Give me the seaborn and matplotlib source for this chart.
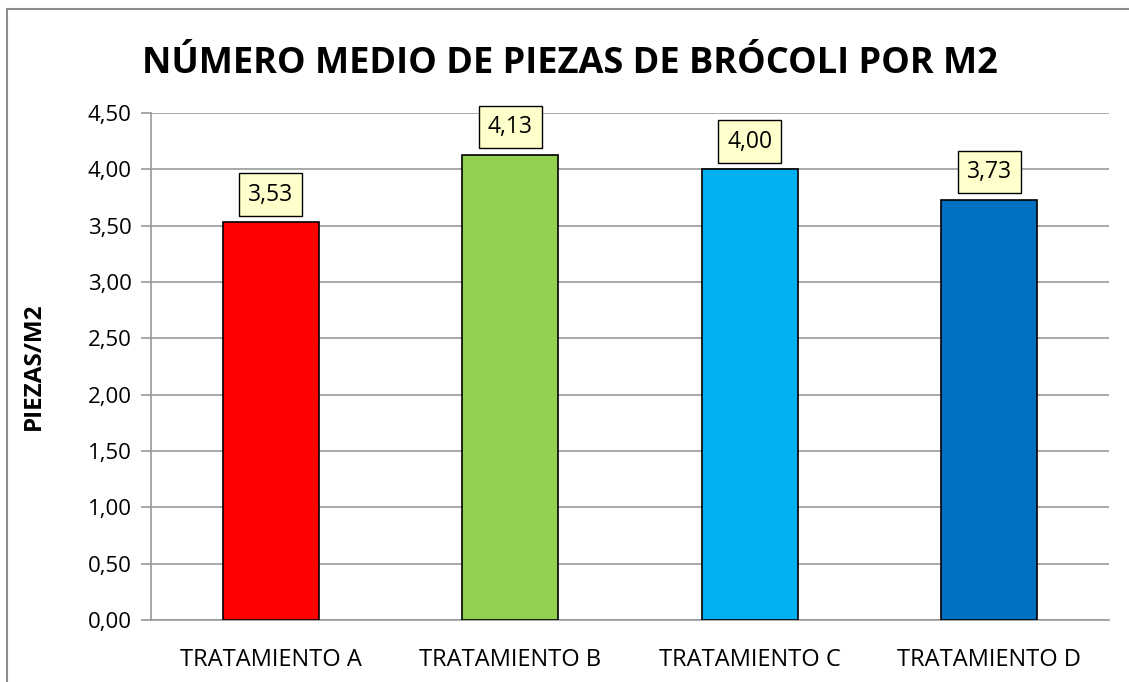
import pandas as pd
import matplotlib
matplotlib.use("Agg")
import matplotlib.pyplot as plt
import seaborn as sns
from matplotlib.patches import Rectangle
from matplotlib.ticker import FuncFormatter

# data
tratamientos = ["TRATAMIENTO A", "TRATAMIENTO B", "TRATAMIENTO C", "TRATAMIENTO D"]
piezas_m2 = [3.53, 4.13, 4.00, 3.73]
colores = ["#FF0000", "#92D050", "#00B0F0", "#0070C0"]
y_ticks = [0, 0.5, 1.0, 1.5, 2.0, 2.5, 3.0, 3.5, 4.0, 4.5]

sns.set_theme(style="white")
plt.rcParams["font.family"] = ["Open Sans", "DejaVu Sans"]
plt.rcParams["text.color"] = "black"
plt.rcParams["xtick.color"] = "black"
plt.rcParams["ytick.color"] = "black"
plt.rcParams["axes.labelcolor"] = "black"

df = pd.DataFrame({"tratamiento": tratamientos, "piezas": piezas_m2})

fig = plt.figure(figsize=(11.29, 6.82), dpi=100)
ax = fig.add_axes([0.1337, 0.0909, 0.8486, 0.7434])

sns.barplot(data=df, x="tratamiento", y="piezas", hue="tratamiento",
            palette=colores, saturation=1, width=0.4, edgecolor="black",
            linewidth=1.2, legend=False, ax=ax, zorder=3)

ax.set_ylim(0, 4.5)
ax.set_yticks(y_ticks)
ax.yaxis.set_major_formatter(FuncFormatter(lambda v, p: f"{v:.2f}".replace(".", ",")))
ax.grid(axis="y", color="#9a9a9a", linewidth=1.2, zorder=0)
ax.set_axisbelow(True)

for side in ["top", "right"]:
    ax.spines[side].set_visible(False)
for side in ["left", "bottom"]:
    ax.spines[side].set_color("#9a9a9a")
    ax.spines[side].set_linewidth(1.2)

ax.tick_params(axis="y", which="major", direction="out", length=7, width=1.2,
               color="#9a9a9a", labelcolor="black", labelsize=16, pad=7, left=True)
ax.tick_params(axis="x", length=0, labelsize=17, pad=20)
ax.set_xlabel("")
ax.set_ylabel("PIEZAS/M2", fontsize=17.5, fontweight="bold", labelpad=30)

# value labels
for i, v in enumerate(piezas_m2):
    ax.annotate(f"{v:.2f}".replace(".", ","), xy=(i, v), xytext=(0, 20),
                textcoords="offset points", ha="center", va="center",
                fontsize=16.5,
                bbox=dict(boxstyle="square,pad=0.4", facecolor="#FFFFCC",
                          edgecolor="black", linewidth=1.0))

fig.text(0.505, 0.906, "NÚMERO MEDIO DE PIEZAS DE BRÓCOLI POR M2",
         ha="center", va="center", fontsize=26, fontweight="bold")

# outer chart border (only left and top edges fall inside the image)
fig.patches.append(Rectangle((7 / 1129, -0.05), 1.0, 1.05 - 9 / 682,
                             transform=fig.transFigure, fill=False,
                             edgecolor="#8c8c8c", linewidth=1.5))

fig.savefig("out.png", dpi=100)
